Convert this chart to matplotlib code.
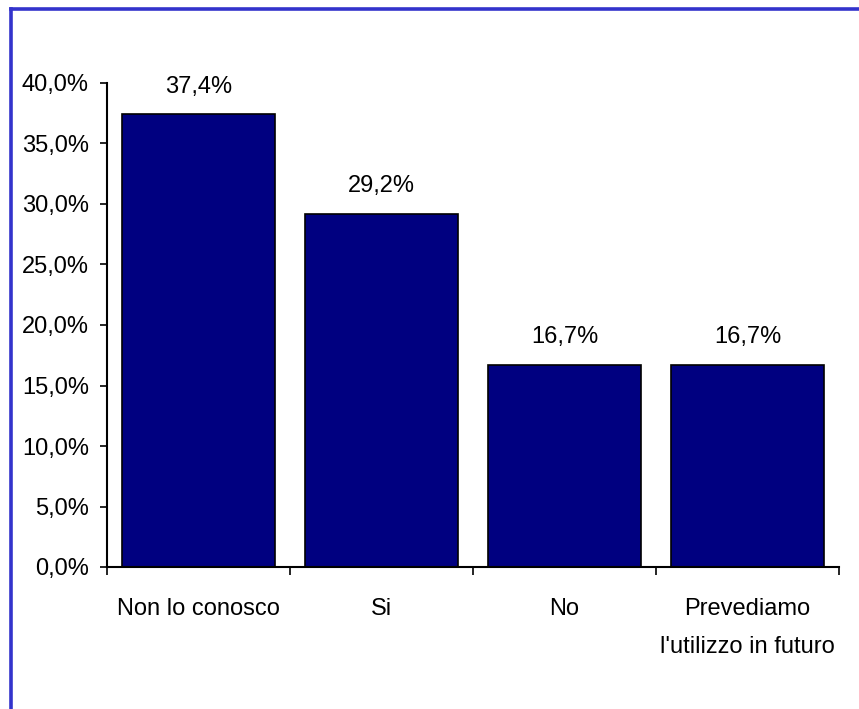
import matplotlib.pyplot as plt
from matplotlib.lines import Line2D
from matplotlib.ticker import FixedLocator, FuncFormatter, MultipleLocator

categories = ["Non lo conosco", "Si", "No", "Prevediamo\nl'utilizzo in futuro"]
values = [37.4, 29.2, 16.7, 16.7]

plt.rcParams["font.family"] = ["Liberation Sans", "DejaVu Sans"]

fig = plt.figure(figsize=(8.59, 7.09), dpi=100)
ax = fig.add_axes([107 / 859, 142 / 709, (839 - 107) / 859, (626 - 142) / 709])

x = list(range(len(categories)))
ax.bar(x, values, width=0.836, color="#000080", edgecolor="black", linewidth=1.2)

for xi, v in zip(x, values):
    ax.annotate(f"{v:.1f}%".replace(".", ","), (xi, v), xytext=(0, 20),
                textcoords="offset points", ha="center", va="center", fontsize=17)

ax.set_xlim(-0.5, len(categories) - 0.5)
ax.set_ylim(0, 40)
ax.yaxis.set_major_locator(MultipleLocator(5))
ax.yaxis.set_major_formatter(FuncFormatter(lambda v, _: f"{v:.1f}%".replace(".", ",")))

ax.xaxis.set_major_locator(FixedLocator([i - 0.5 for i in range(len(categories) + 1)]))
ax.xaxis.set_major_formatter(FuncFormatter(lambda v, _: ""))
ax.xaxis.set_minor_locator(FixedLocator(x))
ax.set_xticklabels(categories, minor=True, fontsize=17, linespacing=1.95)
ax.tick_params(axis="x", which="minor", length=0, pad=22)
ax.tick_params(axis="x", which="major", length=6, width=1.2, direction="out")
ax.tick_params(axis="y", length=5, width=1.2, labelsize=17, pad=8)

for side in ("top", "right"):
    ax.spines[side].set_visible(False)
for side in ("left", "bottom"):
    ax.spines[side].set_linewidth(1.5)

# blue frame around the chart area
fig.add_artist(Line2D([11 / 859, 1.0], [1 - 9 / 709, 1 - 9 / 709], transform=fig.transFigure,
                      color="#3333CC", linewidth=2.6))
fig.add_artist(Line2D([11 / 859, 11 / 859], [0.0, 1 - 9 / 709], transform=fig.transFigure,
                      color="#3333CC", linewidth=2.6))

fig.savefig("out.png", dpi=100)
